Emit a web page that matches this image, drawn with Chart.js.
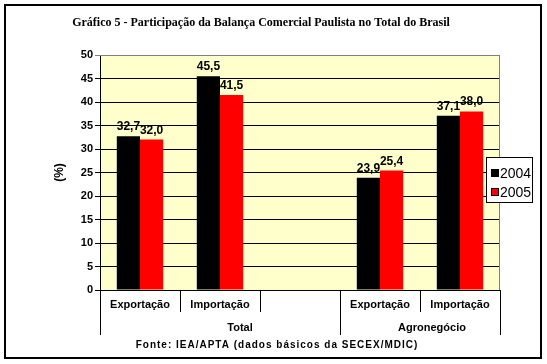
<!DOCTYPE html>
<html>
<head>
<meta charset="utf-8">
<script src="https://cdn.jsdelivr.net/npm/chart.js@4"></script>
<style>
  body { margin: 0; background: #fff; }
</style>
</head>
<body>
<canvas id="myChart" width="547" height="364"></canvas>
<script>
const categories = ["Exportação", "Importação", "", "Exportação", "Importação"];
const groups = ["Total", "Agronegócio"];
const values2004 = [32.7, 45.5, null, 23.9, 37.1];
const values2005 = [32.0, 41.5, null, 25.4, 38.0];
const seriesNames = ["2004", "2005"];
const seriesColors = ["#000000", "#ff0000"];
const yTicks = [0, 5, 10, 15, 20, 25, 30, 35, 40, 45, 50];

const fmt = (v) => v.toFixed(1).replace(".", ",");

const decor = {
  id: "decor",
  beforeDraw(chart) {
    const c = chart.ctx;
    const a = chart.chartArea;
    c.save();
    c.fillStyle = "#ffffcc";
    c.fillRect(a.left, a.top, a.right - a.left, a.bottom - a.top);
    c.restore();
  },
  afterDraw(chart) {
    const c = chart.ctx;
    const a = chart.chartArea;
    c.save();
    // plot border top/right
    c.strokeStyle = "#808080";
    c.lineWidth = 1;
    c.beginPath();
    c.moveTo(a.left, a.top + 0.5);
    c.lineTo(a.right - 0.5, a.top + 0.5);
    c.lineTo(a.right - 0.5, a.bottom);
    c.stroke();

    // value labels
    c.fillStyle = "#000";
    c.font = "bold 12px Arial, 'Liberation Sans'";
    c.textAlign = "center";
    c.textBaseline = "alphabetic";
    chart.data.datasets.forEach((ds, i) => {
      chart.getDatasetMeta(i).data.forEach((bar, j) => {
        if (ds.data[j] == null) return;
        c.fillText(fmt(ds.data[j]), bar.x, bar.y - 6);
      });
    });

    // group separators and labels
    const step = (a.right - a.left) / categories.length;
    c.strokeStyle = "#000";
    c.lineWidth = 1;
    [0, 3, 5].forEach((k) => {
      const px = Math.round(a.left + k * step) + 0.5;
      c.beginPath();
      c.moveTo(px, a.bottom);
      c.lineTo(px, a.bottom + 45);
      c.stroke();
    });
    c.font = "bold 11px Arial, 'Liberation Sans'";
    c.textBaseline = "middle";
    c.fillText(groups[0], a.left + 1.75 * step, a.bottom + 38);
    c.fillText(groups[1], a.left + 4.15 * step, a.bottom + 38);

    // footer
    c.font = "bold 10px Arial, 'Liberation Sans'";
    c.letterSpacing = "1px";
    c.fillText("Fonte: IEA/APTA (dados básicos da SECEX/MDIC)", 277, 345);
    c.letterSpacing = "0px";

    // title
    c.font = "bold 12px 'Times New Roman', 'Liberation Serif'";
    c.fillText("Gráfico 5 - Participação da Balança Comercial Paulista no Total do Brasil", 261, 23);

    // legend
    const lx = 486, ly = 157, lw = 47, lh = 46;
    c.fillStyle = "#fff";
    c.fillRect(lx, ly, lw, lh);
    c.strokeStyle = "#000";
    c.strokeRect(lx + 0.5, ly + 0.5, lw - 1, lh - 1);
    c.font = "14px Arial, 'Liberation Sans'";
    c.textAlign = "left";
    seriesNames.forEach((n, i) => {
      const yy = ly + 16 + i * 19;
      c.fillStyle = seriesColors[i];
      c.fillRect(lx + 5, yy - 4, 8, 8);
      c.strokeStyle = "#000";
      c.strokeRect(lx + 5.5, yy - 3.5, 7, 7);
      c.fillStyle = "#000";
      c.fillText(n, lx + 14, yy + 1);
    });

    // outer frame
    c.lineWidth = 2;
    c.strokeRect(5, 5, 536, 353);
    c.restore();
  }
};

new Chart(document.getElementById("myChart"), {
  type: "bar",
  data: {
    labels: categories,
    datasets: [
      { label: seriesNames[0], data: values2004, backgroundColor: seriesColors[0] },
      { label: seriesNames[1], data: values2005, backgroundColor: seriesColors[1] },
    ],
  },
  options: {
    responsive: false,
    animation: false,
    events: [],
    layout: { padding: { left: 52, right: 47, top: 55, bottom: 0 } },
    datasets: { bar: { categoryPercentage: 0.58, barPercentage: 1 } },
    plugins: { legend: { display: false }, title: { display: false }, tooltip: { enabled: false } },
    scales: {
      x: {
        afterFit(s) { s.height = 74; },
        grid: { display: true, drawOnChartArea: false, offset: true, tickLength: 22, color: "#000" },
        border: { color: "#000" },
        ticks: { color: "#000", font: { family: "Arial, 'Liberation Sans'", size: 11, weight: "bold" }, padding: -14, maxRotation: 0, autoSkip: false },
      },
      y: {
        min: 0,
        max: 50,
        afterFit(s) { s.width = 48; },
        afterBuildTicks(s) { s.ticks = yTicks.map((v) => ({ value: v })); },
        grid: {
          color: (ctx) => (ctx.tick && ctx.tick.value === 50 ? "#808080" : "#000"),
          tickLength: 5,
        },
        border: { color: "#000" },
        title: { display: true, text: "(%)", color: "#000", font: { family: "Arial, 'Liberation Sans'", size: 12, weight: "bold" }, padding: 0 },
        ticks: { color: "#000", font: { family: "Arial, 'Liberation Sans'", size: 11, weight: "bold" }, padding: 2 },
      },
    },
  },
  plugins: [decor],
});
</script>
</body>
</html>
